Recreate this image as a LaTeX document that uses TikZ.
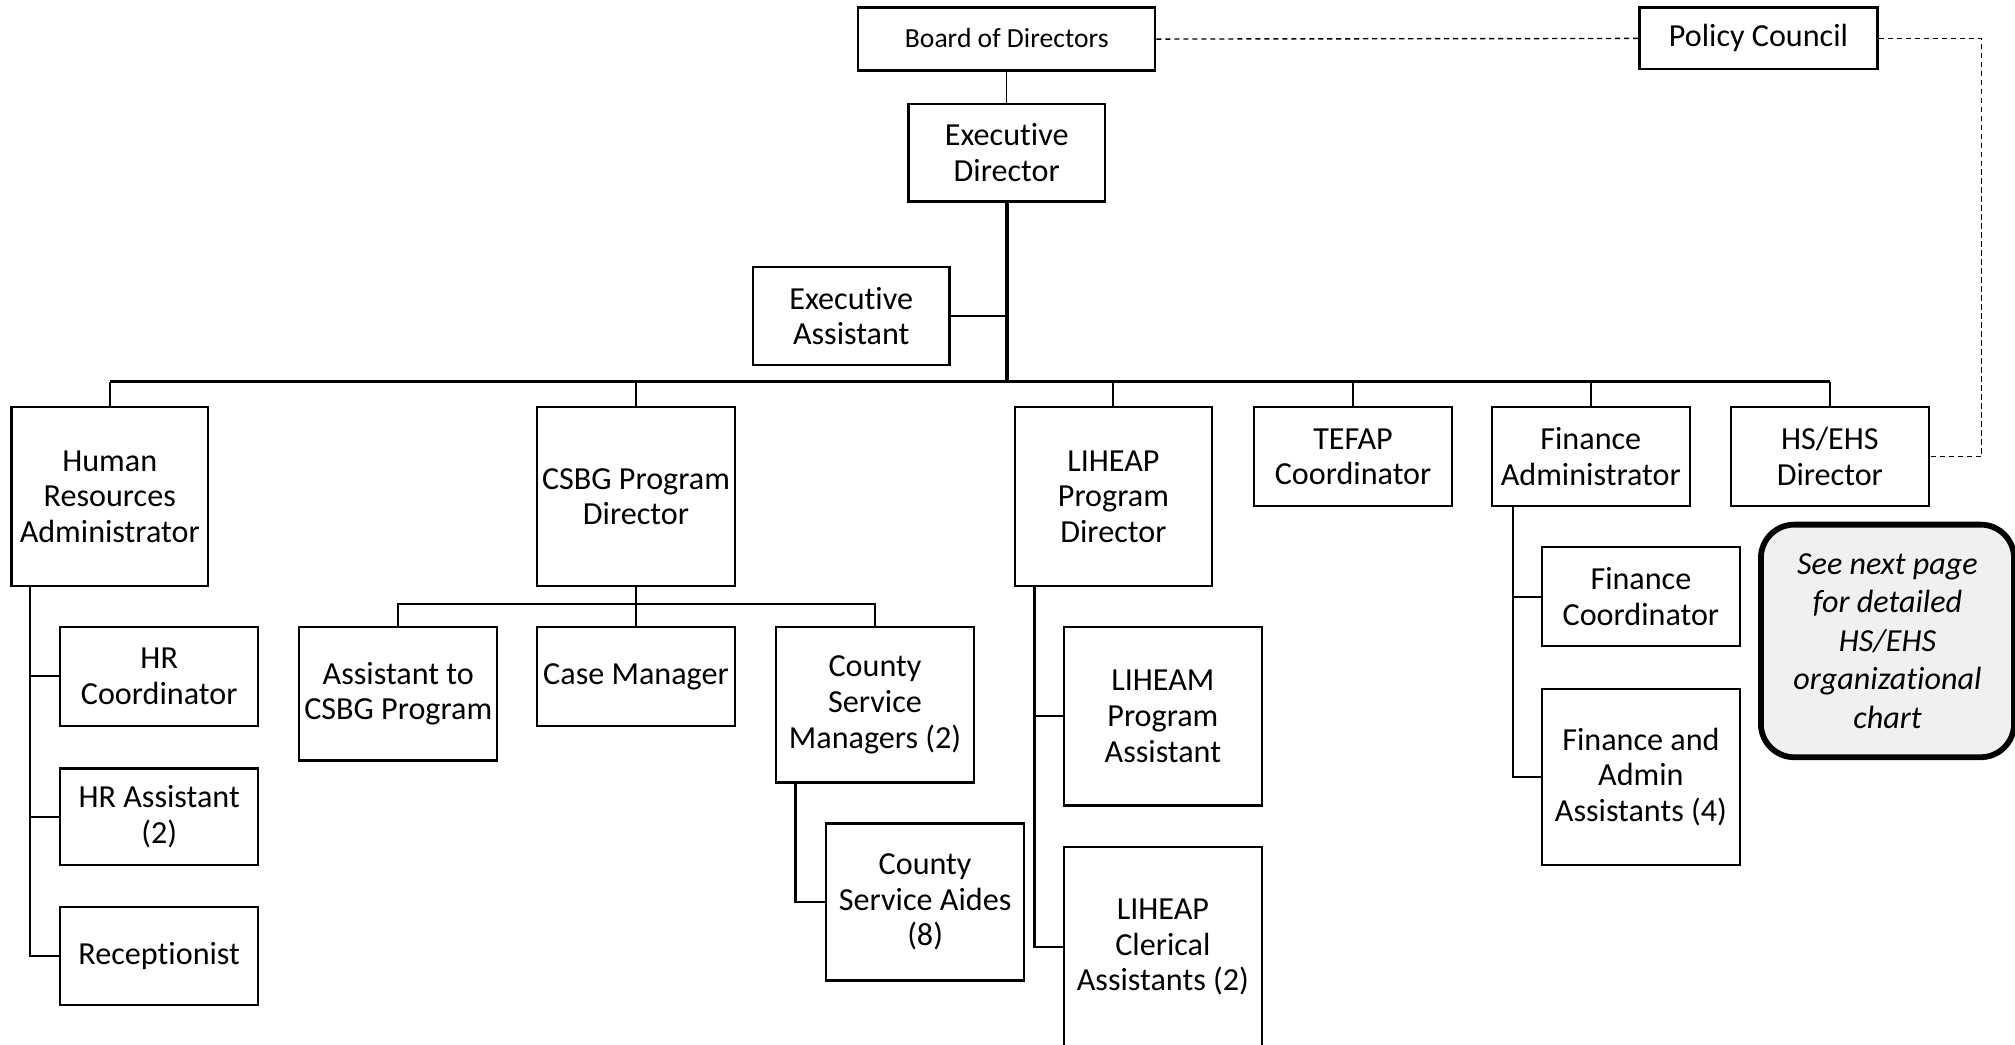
\documentclass[tikz,border=0pt]{standalone}
\usepackage{fontspec}
\setmainfont{Carlito}[Ligatures=NoCommon]
\begin{document}
\begin{tikzpicture}[x=1pt,y=-1pt,
  box/.style={draw,line width=1.8pt,inner sep=0pt,align=center,anchor=north west,
    font=\fontsize{25}{27.7}\selectfont},
  conn/.style={line width=1.6pt},
  busline/.style={line width=2.8pt},
  thinconn/.style={line width=0.8pt},
  dashconn/.style={line width=1.1pt,dash pattern=on 4pt off 3pt},
  notebox/.style={draw,line width=4.5pt,rounded corners=26pt,fill=black!6,inner sep=0pt,
    align=center,anchor=north west,font=\fontsize{25}{30}\selectfont\itshape}]
\useasboundingbox (0,0) rectangle (1568,813);
\clip (0,0) rectangle (1568,813);
% top
\node[box,minimum width=231pt,minimum height=49pt,font=\fontsize{21.5}{25}\selectfont] (board) at (667,5) {\raisebox{2pt}{Board of Directors}};
\node[box,minimum width=185pt,minimum height=48pt] (pc) at (1275,5) {Policy Council};
\node[box,minimum width=153pt,minimum height=76pt] (exec) at (706,80) {Executive\\Director};
\node[box,minimum width=153pt,minimum height=76pt] (ea) at (585,207) {Executive\\Assistant};
% level 2
\node[box,minimum width=153pt,minimum height=139pt] (hra) at (8,316) {Human\\Resources\\Administrator};
\node[box,minimum width=154pt,minimum height=139pt] (csbg) at (417,316) {CSBG Program\\Director};
\node[box,minimum width=153pt,minimum height=139pt] (lih) at (789,316) {LIHEAP\\Program\\Director};
\node[box,minimum width=154pt,minimum height=77pt] (tef) at (975,316) {TEFAP\\Coordinator};
\node[box,minimum width=154pt,minimum height=77pt] (fin) at (1160,316) {Finance\\Administrator};
\node[box,minimum width=154pt,minimum height=77pt] (hs) at (1346,316) {HS/EHS\\Director};
% HR
\node[box,minimum width=154pt,minimum height=77pt] (hrc) at (46,487) {HR\\Coordinator};
\node[box,minimum width=154pt,minimum height=75pt] (hras) at (46,597) {HR Assistant\\(2)};
\node[box,minimum width=154pt,minimum height=76pt] (rec) at (46,705) {Receptionist};
% CSBG
\node[box,minimum width=154pt,minimum height=104pt] (acs) at (232,487) {Assistant to\\CSBG Program};
\node[box,minimum width=154pt,minimum height=77pt] (cm) at (417,487) {Case Manager};
\node[box,minimum width=154pt,minimum height=121pt] (csm) at (603,487) {County\\Service\\Managers (2)};
\node[box,minimum width=154pt,minimum height=122pt] (csa) at (642,640) {County\\Service Aides\\(8)};
% LIHEAP
\node[box,minimum width=154pt,minimum height=139pt] (lpa) at (827,487) {LIHEAM\\Program\\Assistant};
\node[box,minimum width=154pt,minimum height=156pt] (lcl) at (827,658) {LIHEAP\\Clerical\\Assistants (2)};
% Finance
\node[box,minimum width=154pt,minimum height=77pt] (fc) at (1199,425) {Finance\\Coordinator};
\node[box,minimum width=154pt,minimum height=137pt] (faa) at (1199,535) {Finance and\\Admin\\Assistants (4)};
% note
\node[notebox,minimum width=197pt,minimum height=181pt] (note) at (1368,406) {See next page\\for detailed\\HS/EHS\\organizational\\chart};
% connectors
\coordinate (busL) at (85,297);
\draw[thinconn] (board.south) -- (exec.north);
\draw[busline] (exec.south) -- (exec.south |- busL);
\draw[conn] (ea.east) -- (ea.east -| exec.south);
\draw[busline] (hra.north |- busL) -- (hs.north |- busL);
\foreach \n in {hra,csbg,lih,tef,fin,hs}{\draw[conn] (\n.north) -- (\n.north |- busL);}
% HR chain
\draw[conn] ([xshift=15pt]hra.south west) |- (rec.west);
\draw[conn] ([xshift=15pt]hra.south west |- hrc.west) -- (hrc.west);
\draw[conn] ([xshift=15pt]hra.south west |- hras.west) -- (hras.west);
% CSBG
\draw[conn] (csbg.south) -- (cm.north);
\draw[conn] (acs.north) -- ++(0,-17) -| (csm.north);
\draw[conn] ([xshift=16pt]csm.south west) |- (csa.west);
% LIHEAP
\draw[conn] ([xshift=16pt]lih.south west) |- (lcl.west);
\draw[conn] ([xshift=16pt]lih.south west |- lpa.west) -- (lpa.west);
% Finance
\draw[conn] ([xshift=17pt]fin.south west) |- (faa.west);
\draw[conn] ([xshift=17pt]fin.south west |- fc.west) -- (fc.west);
% dashed
\draw[dashconn] (board.east) -- (pc.west);
\draw[dashconn] (pc.east) -- ++(80,0) |- (hs.east);
\end{tikzpicture}
\end{document}
